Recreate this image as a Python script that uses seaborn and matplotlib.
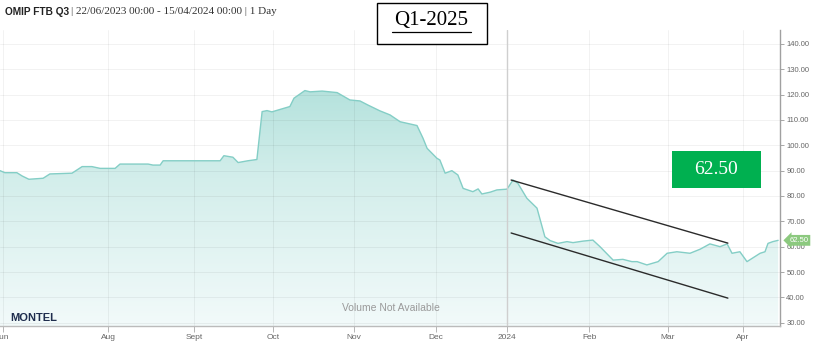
import numpy as np
import pandas as pd
import seaborn as sns
import matplotlib.pyplot as plt
import matplotlib.transforms as mtransforms
from matplotlib.patches import Rectangle
from matplotlib.lines import Line2D
from matplotlib.colors import LinearSegmentedColormap

# trading-day index since 22/06/2023 and settlement price (EUR/MWh)
days = [0, 1.3, 4.5, 5.9, 7.7, 11.5, 13.3, 19.2, 21.9, 24.5, 26.7, 30.7, 32.0, 39.5,
        40.8, 42.7, 43.5, 58.7, 59.7, 62.1, 63.5, 66.1, 68.5, 69.9, 71.2, 72.5,
        77.3, 78.4, 81.3, 82.7, 85.9, 89.9, 93.3, 96.0, 98.1, 101.3, 104.0, 106.7,
        111.2, 112.8, 113.9, 116.5, 117.3, 118.7, 120.5, 122.1, 123.5, 126.1,
        127.5, 128.5, 130.7, 132.5, 135.2, 136.8, 138.1, 140.5, 143.2, 144.8,
        145.3, 146.7, 148.8, 151.2, 152.8, 155.5, 158.1, 160.0, 163.5, 166.1,
        168.5, 169.9, 172.5, 175.5, 177.9, 180.5, 184.0, 186.7, 189.3, 192.0,
        193.9, 195.2, 197.3, 199.2, 202.7, 204.0, 204.8, 206.1, 207.5]
prices = [90.0, 89.2, 89.2, 87.9, 86.6, 87.0, 88.7, 89.0, 91.6, 91.6, 90.9, 90.9, 92.6, 92.6,
          92.2, 92.2, 93.9, 93.9, 95.9, 95.3, 93.2, 93.9, 94.4, 113.3, 113.7, 113.2,
          115.3, 118.6, 121.6, 121.1, 121.4, 120.8, 117.9, 117.5, 115.9, 113.6, 112.0, 109.3,
          107.8, 102.8, 98.8, 94.9, 94.2, 89.0, 90.0, 88.3, 83.0, 81.7,
          82.8, 80.8, 81.5, 82.4, 82.7, 86.3, 85.0, 79.1, 75.2, 66.6,
          63.9, 62.4, 61.3, 62.0, 61.6, 62.2, 62.6, 60.0, 54.7, 55.0,
          54.1, 54.1, 52.8, 54.1, 57.4, 58.0, 57.4, 59.0, 61.1, 60.0,
          61.1, 57.4, 58.0, 54.1, 57.4, 58.0, 61.3, 62.0, 62.5]

channel_days = [136.3, 194.1]
upper_channel = [86.3, 61.4]
lower_channel = [65.4, 39.7]

month_labels = ["Jun", "Aug", "Sept", "Oct", "Nov", "Dec", "2024", "Feb", "Mar", "Apr"]
month_days = [0.8, 28.8, 51.7, 72.8, 94.4, 116.3, 135.2, 157.1, 178.1, 198.1]
price_ticks = list(range(30, 150, 10))
last_price = 62.50

df = pd.DataFrame({"day": days, "price": prices})

sns.set_style("white")
plt.rcParams['font.family'] = ['Liberation Sans', 'DejaVu Sans']
serif = ["Liberation Serif", "DejaVu Serif"]

W, H = 814, 351
fig = plt.figure(figsize=(W / 100, H / 100), dpi=100)
ax = fig.add_axes([0, 25 / H, 780 / W, 296 / H])

xmin, xmax, ymin, ymax = 0, 208, 28.7, 145.5

# gradient area under the line
fill = ax.fill_between(df["day"], df["price"], ymin, color="none", lw=0)
cmap = LinearSegmentedColormap.from_list("teal", ["#f2fafa", "#d3eeeb", "#a0dad3"])
grad = np.linspace(0, 1, 256).reshape(-1, 1)
img = ax.imshow(grad, extent=[xmin, xmax, ymin, ymax], origin="lower",
                aspect="auto", cmap=cmap, zorder=1)
img.set_clip_path(fill.get_paths()[0], transform=ax.transData)

sns.lineplot(data=df, x="day", y="price", ax=ax, color="#84cec6", linewidth=1, zorder=3)

# grid
for p in price_ticks:
    ax.axhline(p, color=(0, 0, 0, 0.05), lw=0.7, zorder=2)
for d in month_days:
    ax.axvline(d, color=(0, 0, 0, 0.05), lw=0.7, zorder=2)
ax.axvline(month_days[6], color="#cfcfcf", lw=1, zorder=4)

# trend channel
ax.plot(channel_days, upper_channel, color="#2b2b2b", lw=1, zorder=5)
ax.plot(channel_days, lower_channel, color="#2b2b2b", lw=1, zorder=5)

ax.set_xlim(xmin, xmax)
ax.set_ylim(ymin, ymax)
ax.set_xlabel("")
ax.set_ylabel("")
ax.set_xticks(month_days)
ax.set_xticklabels(month_labels)
ax.yaxis.tick_right()
ax.set_yticks(price_ticks)
ax.set_yticklabels([f"{p:.2f}" for p in price_ticks])
ax.tick_params(axis="y", direction="out", length=3, width=0.6, color="#999999",
               labelsize=5.5, labelcolor="#666666", pad=1.5, right=True, left=False)
ax.tick_params(axis="x", direction="out", length=4, width=0.6, color="#aaaaaa",
               labelsize=6, labelcolor="#666666", pad=1.5, bottom=True)
for s in ["top", "left"]:
    ax.spines[s].set_visible(False)
ax.spines["right"].set_color("#a0a0a0")
ax.spines["right"].set_linewidth(1)
ax.spines["bottom"].set_color("#bbbbbb")
ax.spines["bottom"].set_linewidth(1)

# last price tag
blend = mtransforms.blended_transform_factory(ax.transAxes, ax.transData)
ax.text(1.012, last_price, f"{last_price:.2f}", transform=blend, ha="left", va="center",
        fontsize=5.5, color="white", zorder=6, clip_on=False,
        bbox=dict(boxstyle="larrow,pad=0.25", fc="#8cc97f", ec="none"))

# header
t1 = fig.text(5 / W, 1 - 12 / H, "OMIP FTB Q3", fontsize=7.3, fontweight="bold",
              color="#222222", va="center", ha="left")
ax.annotate("| 22/06/2023 00:00 - 15/04/2024 00:00 | 1 Day", xy=(1, 0.5), xycoords=t1,
            xytext=(1.5, 0), textcoords="offset points", fontsize=8,
            family=serif, color="#333333", va="center", ha="left", annotation_clip=False)

# Q1-2025 title box
fig.patches.append(Rectangle((377 / W, 1 - 44 / H), 110 / W, 41 / H, transform=fig.transFigure,
                             fc="white", ec="black", lw=1, zorder=5))
fig.text(431 / W, 1 - 21 / H, "Q1-2025", fontsize=15, family=serif,
         color="black", ha="center", va="center", zorder=6)
fig.lines.append(Line2D([392 / W, 471 / W], [1 - 32 / H, 1 - 32 / H], transform=fig.transFigure,
                        color="black", lw=0.9, zorder=6))

# green price box
fig.patches.append(Rectangle((672 / W, 1 - 188 / H), 89 / W, 37 / H, transform=fig.transFigure,
                             fc="#00b050", ec="none", zorder=5))
fig.text(716 / W, 1 - 170 / H, f"{last_price:.2f}", fontsize=14, family=serif,
         color="white", ha="center", va="center", zorder=6)

# footer texts
fig.text(10 / W, 1 - 318 / H, "MONTEL", fontsize=8, fontweight="heavy", color="#1f2d4e",
         ha="left", va="center")
fig.text(391 / W, 1 - 308 / H, "Volume Not Available", fontsize=7.5, color="#9a9a9a",
         ha="center", va="center")

fig.savefig("out.png", dpi=100, facecolor="white")
